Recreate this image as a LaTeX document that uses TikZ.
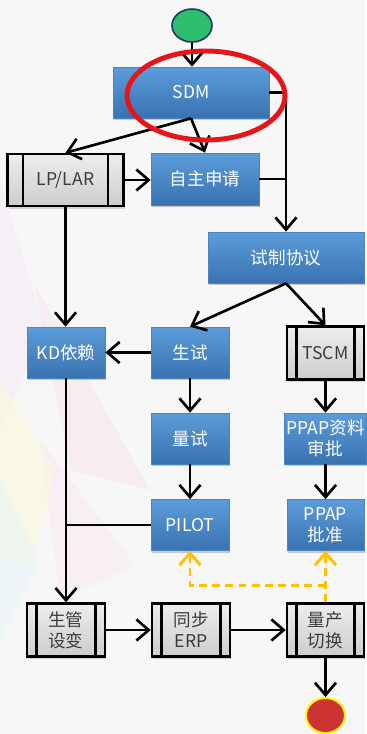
\documentclass[tikz,border=0pt]{standalone}
\usepackage{fontspec}
\setmainfont{Noto Sans CJK SC}
\usetikzlibrary{arrows.meta,shadows,shapes.geometric}
\definecolor{paper}{HTML}{F7F7F7}
\definecolor{boxtop}{HTML}{5C9CDA}
\definecolor{boxbot}{HTML}{3A72B0}
\definecolor{boxedge}{HTML}{4A84C2}
\definecolor{subtop}{HTML}{EDEDED}
\definecolor{subbot}{HTML}{CDCDCD}
\definecolor{subtext}{HTML}{3C3C3C}
\definecolor{flowgold}{HTML}{FFC000}
\definecolor{markred}{HTML}{E8141B}
\definecolor{startgreen}{HTML}{2DBD6E}
\definecolor{startedge}{HTML}{1F3864}
\definecolor{endred}{HTML}{CC3333}
\definecolor{endyellow}{HTML}{FFF200}

\begin{document}
\begin{tikzpicture}[x=0.02cm,y=-0.02cm]
    \tikzstyle{every node}=[font=\fontsize{10}{12}\selectfont, align=center, inner sep=1pt]
    \tikzstyle{blue box}=[rectangle, draw=boxedge, line width=0.4pt, top color=boxtop, bottom color=boxbot, text=white, minimum height=1.02cm, drop shadow={shadow xshift=0.8pt, shadow yshift=-1.2pt, opacity=0.4}]
    \tikzset{sub box/.style={rectangle, draw=black, line width=1.4pt, top color=subtop, bottom color=subbot, text=subtext, minimum height=1.06cm, drop shadow={shadow xshift=0.8pt, shadow yshift=-1.5pt, opacity=0.3},
        path picture={\draw[line width=1.3pt] ([xshift=#1]path picture bounding box.north west) -- ([xshift=#1]path picture bounding box.south west)
            ([xshift=-#1]path picture bounding box.north east) -- ([xshift=-#1]path picture bounding box.south east);}},
        sub box/.default=0.19cm}
    \tikzstyle{flow}=[-{Straight Barb[length=7pt,width=12pt]}, line width=1.5pt]
    \tikzstyle{link}=[line width=1.5pt]
    \tikzstyle{dashflow}=[flow, draw=flowgold, line width=1.6pt, dash pattern=on 4.5pt off 3pt]

    % background
    \fill[paper] (0,0) rectangle (366,734);
    \useasboundingbox (0,0) rectangle (366,734);
    \fill[violet!10, opacity=0.35] (0,180) -- (45,330) -- (0,430) -- cycle;
    \fill[magenta!20, opacity=0.25] (35,285) -- (150,490) -- (70,470) -- cycle;
    \fill[magenta!15, opacity=0.25] (40,440) -- (135,565) -- (60,600) -- cycle;
    \fill[yellow!20, opacity=0.35] (0,380) -- (55,470) -- (30,565) -- (0,560) -- cycle;
    \fill[cyan!15, opacity=0.3] (0,480) -- (40,560) -- (0,640) -- cycle;

    % start
    \node[ellipse, draw=startedge, line width=0.9pt, fill=startgreen, minimum width=0.8cm, minimum height=0.66cm, inner sep=0] (start) at (192,25.5) {};

    % SDM
    \node[blue box, minimum width=3.12cm] (sdm) at (191,92.5) {SDM};

    % self application
    \node[blue box, minimum width=2.16cm, minimum height=1.04cm] (selfapply) at (205,179) {自主申请};

    % LP/LAR
    \node[sub box=0.31cm, minimum width=2.32cm, minimum height=1.04cm] (lplar) at (65.5,180) {LP/LAR};

    % trial agreement
    \node[blue box, minimum width=3.12cm] (trialdeal) at (286,257.5) {试制协议};

    % KD
    \node[blue box, minimum width=1.56cm] (kd) at (66,352.5) {KD依赖};

    % production trial
    \node[blue box, minimum width=1.56cm] (prodtrial) at (190,352.5) {生试};

    % TSCM
    \node[sub box, minimum width=1.54cm] (tscm) at (325.5,353) {TSCM};

    % mass trial
    \node[blue box, minimum width=1.56cm] (masstrial) at (190,438.5) {量试};

    % PPAP review
    \node[blue box, minimum width=1.54cm] (ppapreview) at (325.5,438.5) {PPAP资料\\审批};

    % PILOT
    \node[blue box, minimum width=1.56cm] (pilot) at (190,525) {PILOT};

    % PPAP approval
    \node[blue box, minimum width=1.54cm] (ppapok) at (325.5,525) {PPAP\\批准};

    % bottom row
    \node[sub box, minimum width=1.56cm] (pcchange) at (66,630) {生管\\设变};
    \node[sub box, minimum width=1.56cm] (syncerp) at (191,630) {同步\\ERP};
    \node[sub box, minimum width=1.54cm] (massswitch) at (325.5,630) {量产\\切换};

    % end
    \node[ellipse, draw=endyellow, line width=1.1pt, fill=endred, minimum width=0.78cm, minimum height=0.7cm, inner sep=0] (finish) at (325.5,715.5) {};

    % connectors
    \draw[flow] (start.south) -- (start.south |- sdm.north);
    \draw[flow] (sdm.south) -- (lplar.north);
    \draw[flow] (sdm.south) -- (selfapply.north);
    \draw[flow] (sdm.east) -| (trialdeal.north);
    \draw[link] (selfapply.east) -- (selfapply.east -| trialdeal.north);
    \draw[flow] (lplar.east) -- (lplar.east -| selfapply.west);
    \draw[flow] (lplar.south) -- (lplar.south |- kd.north);
    \draw[flow] (trialdeal.south) -- (prodtrial.north);
    \draw[flow] (trialdeal.south) -- (tscm.north);
    \draw[flow] (prodtrial.west) -- (kd.east);
    \draw[flow] (prodtrial) -- (masstrial);
    \draw[flow] (masstrial) -- (pilot);
    \draw[flow] (tscm) -- (ppapreview);
    \draw[flow] (ppapreview) -- (ppapok);
    \draw[link] (pilot.west) -- (pilot.west -| kd.south);
    \draw[flow] (kd.south) -- (kd.south |- pcchange.north);
    \draw[flow] (pcchange) -- (syncerp);
    \draw[flow] (syncerp) -- (massswitch);
    \draw[flow] (massswitch) -- (finish);

    % dashed feedback
    \coordinate (turn) at ([yshift=0.34cm]massswitch.north);
    \draw[dashflow] (massswitch.north) -- (ppapok.south);
    \draw[dashflow] (turn) -| (pilot.south);

    % highlight
    \draw[markred, line width=2.8pt] (206,95.5) ellipse [x radius=1.58cm, y radius=0.89cm];
\end{tikzpicture}
\end{document}
